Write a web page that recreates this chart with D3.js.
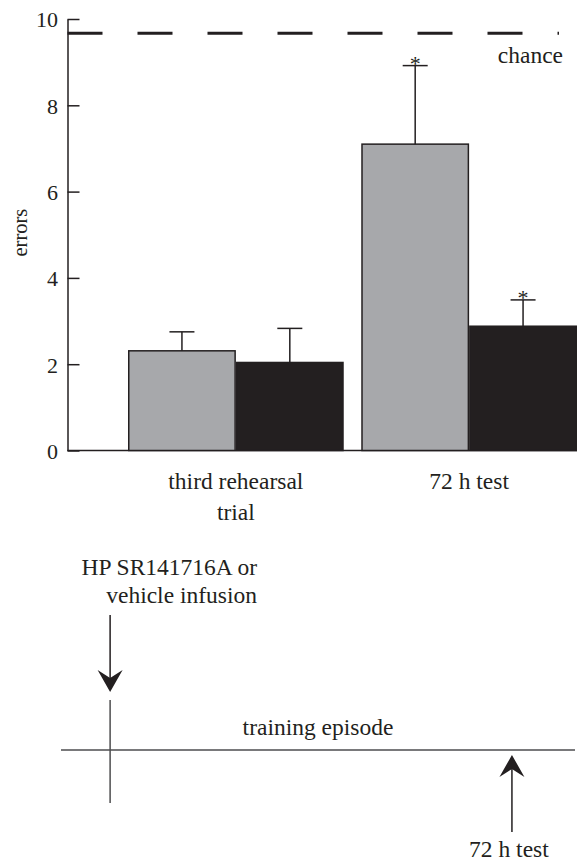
<!DOCTYPE html>
<html lang="en">
<head>
  <meta charset="UTF-8">
  <title>errors: third rehearsal trial and 72 h test</title>
  <script src="https://cdn.jsdelivr.net/npm/d3@7/dist/d3.min.js"></script>
  <style>
    body { margin: 0; background: #fff; }
    svg { display: block; font-family: "Liberation Serif", "Times New Roman", serif; }
    text { fill: #231f20; }
    .axis path, .axis line { stroke: #231f20; stroke-width: 1.5px; }
    .axis text { font-size: 22px; font-family: "Liberation Serif", serif; fill: #231f20; }
    .label { font-size: 23.5px; }
  </style>
</head>
<body>
  <script>
    // data
    const groups = ["third rehearsal trial", "72 h test"];
    const groupLines = [["third rehearsal", "trial"], ["72 h test"]];
    const series = ["vehicle", "SR141716A"];
    const seriesColors = ["#a7a8ab", "#231f20"];
    const vehicleErrors = [2.31, 7.10];
    const vehicleSem = [0.44, 1.82];
    const drugErrors = [2.04, 2.88];
    const drugSem = [0.79, 0.61];
    const significant = [[false, true], [false, true]]; // [series][group]
    const chanceLevel = 9.67;
    const yTicks = [0, 2, 4, 6, 8, 10];

    // schematic timeline (hours)
    const infusionTime = 0;
    const testTime = 72;
    const timelineDomain = [-8.8, 83.3];

    const W = 577, H = 861;
    const svg = d3.select("body").append("svg")
      .attr("width", W).attr("height", H);

    const y = d3.scaleLinear().domain([0, 10]).range([450.5, 19]);
    const x0 = d3.scaleBand().domain(groups).range([128, 577]).paddingInner(0.075);
    const x1 = d3.scaleBand().domain(series).range([0, x0.bandwidth()]);
    const axisX = 67.5;

    const rows = [];
    groups.forEach((g, gi) => {
      rows.push({ g, s: series[0], v: vehicleErrors[gi], e: vehicleSem[gi], star: significant[0][gi] });
      rows.push({ g, s: series[1], v: drugErrors[gi], e: drugSem[gi], star: significant[1][gi] });
    });

    // x baseline
    svg.append("line")
      .attr("x1", axisX).attr("x2", W)
      .attr("y1", y(0)).attr("y2", y(0))
      .attr("stroke", "#231f20").attr("stroke-width", 1.5);

    // bars
    const bars = svg.append("g").attr("id", "bars");
    bars.selectAll("rect")
      .data(rows)
      .enter().append("rect")
      .attr("x", d => x0(d.g) + x1(d.s) + 0.75)
      .attr("y", d => y(d.v))
      .attr("width", x1.bandwidth() - 1.5)
      .attr("height", d => y(0) - y(d.v))
      .attr("fill", d => seriesColors[series.indexOf(d.s)])
      .attr("stroke", "#231f20")
      .attr("stroke-width", 1.5);

    // upper error bars
    const capW = 25;
    const err = svg.append("g").attr("id", "errors")
      .attr("stroke", "#231f20").attr("stroke-width", 1.5);
    rows.forEach(d => {
      const cx = x0(d.g) + x1(d.s) + x1.bandwidth() / 2;
      err.append("line").attr("x1", cx).attr("x2", cx)
        .attr("y1", y(d.v)).attr("y2", y(d.v + d.e));
      err.append("line").attr("x1", cx - capW / 2).attr("x2", cx + capW / 2)
        .attr("y1", y(d.v + d.e)).attr("y2", y(d.v + d.e));
      if (d.star) {
        svg.append("text")
          .attr("x", cx).attr("y", y(d.v + d.e) + 5)
          .attr("text-anchor", "middle")
          .style("font-size", "22px")
          .text("*");
      }
    });

    // y axis
    svg.append("g")
      .attr("class", "axis")
      .attr("transform", `translate(${axisX},0)`)
      .call(d3.axisLeft(y).tickValues(yTicks).tickSizeInner(-12).tickSizeOuter(0).tickPadding(9.5))
      .call(g => g.selectAll("text").attr("dy", "0.36em"));

    svg.append("text")
      .attr("transform", `translate(27,${(y(4.5) + y(5.6)) / 2}) rotate(-90)`)
      .attr("text-anchor", "middle")
      .style("font-size", "20.5px")
      .text("errors");

    // chance line
    svg.append("line")
      .attr("x1", axisX).attr("x2", 559)
      .attr("y1", y(chanceLevel)).attr("y2", y(chanceLevel))
      .attr("stroke", "#231f20").attr("stroke-width", 3)
      .attr("stroke-dasharray", "35,35");
    svg.append("text")
      .attr("class", "label")
      .attr("x", 563).attr("y", 63)
      .attr("text-anchor", "end")
      .text("chance");

    // category labels
    groups.forEach((g, gi) => {
      const t = svg.append("text")
        .attr("class", "label")
        .attr("text-anchor", "middle")
        .attr("x", x0(g) + x0.bandwidth() / 2)
        .attr("y", 489);
      groupLines[gi].forEach((line, li) => {
        t.append("tspan")
          .attr("x", x0(g) + x0.bandwidth() / 2)
          .attr("dy", li === 0 ? 0 : 31)
          .text(line);
      });
    });

    // ---- schematic of the procedure ----
    const tx = d3.scaleLinear().domain(timelineDomain).range([61, 575]);
    const lineY = 750;
    const diag = svg.append("g").attr("id", "timeline");

    diag.append("line")
      .attr("x1", tx(timelineDomain[0])).attr("x2", tx(timelineDomain[1]))
      .attr("y1", lineY).attr("y2", lineY)
      .attr("stroke", "#4d4d4f").attr("stroke-width", 1.5);
    diag.append("line")
      .attr("x1", tx(infusionTime)).attr("x2", tx(infusionTime))
      .attr("y1", lineY - 50).attr("y2", lineY + 53)
      .attr("stroke", "#4d4d4f").attr("stroke-width", 1.5);

    diag.append("text")
      .attr("class", "label")
      .attr("x", (tx(timelineDomain[0]) + tx(timelineDomain[1])) / 2)
      .attr("y", lineY - 15)
      .attr("text-anchor", "middle")
      .text("training episode");

    // arrow head: tip at (0,0) pointing +y
    const head = "M0,0 L-12.5,-22 L0,-14 L12.5,-22 Z";

    const xi = tx(infusionTime);
    diag.append("line")
      .attr("x1", xi).attr("x2", xi)
      .attr("y1", lineY - 135).attr("y2", lineY - 70)
      .attr("stroke", "#231f20").attr("stroke-width", 1.5);
    diag.append("path")
      .attr("d", head)
      .attr("transform", `translate(${xi},${lineY - 58})`)
      .attr("fill", "#231f20");

    const inf = diag.append("text")
      .attr("class", "label")
      .attr("text-anchor", "end");
    inf.append("tspan").attr("x", 257).attr("y", 575).text("HP SR141716A or");
    inf.append("tspan").attr("x", 257).attr("y", 603).text("vehicle infusion");

    const xt = tx(testTime);
    diag.append("line")
      .attr("x1", xt).attr("x2", xt)
      .attr("y1", lineY + 15).attr("y2", lineY + 82)
      .attr("stroke", "#231f20").attr("stroke-width", 1.5);
    diag.append("path")
      .attr("d", head)
      .attr("transform", `translate(${xt},${lineY + 5}) rotate(180)`)
      .attr("fill", "#231f20");

    diag.append("text")
      .attr("class", "label")
      .attr("x", xt - 3).attr("y", 857)
      .attr("text-anchor", "middle")
      .text("72 h test");
  </script>
</body>
</html>
